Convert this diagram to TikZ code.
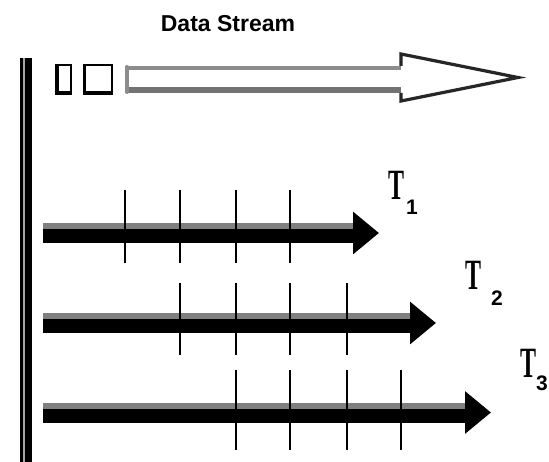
\documentclass[tikz,border=0pt]{standalone}
\usepackage{fontspec}
\setmainfont{Liberation Serif}
\newfontfamily\headfont{Liberation Sans}
\usetikzlibrary{arrows.meta}
\begin{document}
\begin{tikzpicture}[x=1pt,y=-1pt,
  flow/.style={line width=20pt,-{Triangle[length=26pt,width=41pt]}},
  band/.style={line width=6pt,draw=black!50},
  tickline/.style={line width=1.8pt},
  cell/.style={draw,line width=2.5pt,inner sep=0pt,minimum height=28.5pt},
  tlabel/.style={inner sep=0pt,font=\bfseries\fontsize{24}{24}\selectfont},
  sublabel/.style={inner sep=0pt,font=\headfont\bfseries\fontsize{21}{21}\selectfont}]
\useasboundingbox (0,0) rectangle (549,462);

% title
\node[font=\headfont\bfseries\fontsize{23}{27}\selectfont] (title) at (228,24) {Data Stream};

% time axis on the left
\fill (19.5,58) rectangle (22.5,462);
\fill[black!35] (22.5,58) rectangle (24.5,462);
\fill (24.5,58) rectangle (32,462);

% two data items entering the stream
\node[cell,minimum width=13.5pt] (b1) at (64,79.5) {};
\node[cell,minimum width=27.5pt] (b2) at (98,79.5) {};
\draw[line width=4.5pt] ([xshift=1pt]b1.north west) -- ([xshift=1pt]b1.south west);
\draw[line width=4pt] ([yshift=1.5pt]b1.south west) -- ([yshift=1.5pt]b1.south east);
\draw[line width=4pt] ([yshift=1.5pt]b2.south west) -- ([yshift=1.5pt]b2.south east);

% hollow stream arrow
\fill[white] (125,66) -- (401,66) -- (401,53) -- (520,77.5) -- (401,102) -- (401,93) -- (125,93) -- cycle;
\draw[black!45,line width=4pt] (125,68) -- (401,68);
\draw[black!55,line width=6pt] (125,90) -- (401,90);
\draw[black!45,line width=4pt,line cap=round] (127,67) -- (127,92);
\draw[black!85,line width=3.2pt,line join=miter] (401,66) -- (401,54) -- (518,77.5) -- (401,101) -- (401,93);

% time lines
\coordinate (s1) at (43,233);   \coordinate (e1) at (379,233);
\coordinate (s2) at (43,323);   \coordinate (e2) at (436,323);
\coordinate (s3) at (43,412.5); \coordinate (e3) at (491,412.5);

\draw[flow] (s1) -- (e1);
\draw[flow] (s2) -- (e2);
\draw[flow] (s3) -- (e3);
\draw[band] ([yshift=7pt]s1) -- ([yshift=7pt,xshift=-26pt]e1);
\draw[band] ([yshift=7pt]s2) -- ([yshift=7pt,xshift=-26pt]e2);
\draw[band] ([yshift=7pt]s3) -- ([yshift=7pt,xshift=-26pt]e3);

% window boundaries
\foreach \x in {125,180,236,290} \draw[tickline] (\x,190) -- (\x,263);
\foreach \x in {180,236,290,347} \draw[tickline] (\x,283) -- (\x,355);
\foreach \x in {236,290,347,401} \draw[tickline] (\x,370) -- (\x,450);

% window labels
\node[tlabel] (t1) at (396,185) {\scalebox{1}[1.8]{T}};
\node[sublabel] (n1) at (412,207) {1};
\node[tlabel] (t2) at (473,275) {\scalebox{1}[1.8]{T}};
\node[sublabel] (n2) at (497,298) {2};
\node[tlabel] (t3) at (528,363) {\scalebox{1}[1.8]{T}};
\node[sublabel] (n3) at (542,383) {3};
\end{tikzpicture}
\end{document}
